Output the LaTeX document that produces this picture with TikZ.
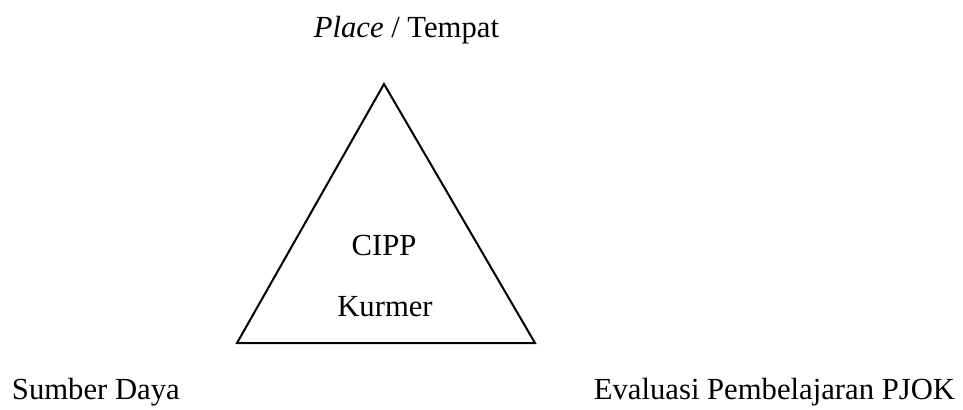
\documentclass[tikz,border=0pt]{standalone}
\usepackage{fontspec}
\setmainfont{Liberation Serif}
\usepackage{tikz}
\usetikzlibrary{positioning}
\tikzset{lbl/.style={anchor=base, inner sep=0pt, font=\fontsize{23}{27}\selectfont}}

\begin{document}
\begin{tikzpicture}[x=0.75pt, y=-0.75pt, line width=1.5pt]
  \useasboundingbox (0,0) rectangle (963,410);
  \coordinate (T)  at (384,84);
  \coordinate (BL) at (237,343);
  \coordinate (BR) at (535,343);
  \node[lbl, anchor=base east] (place) at (500,38) {\textit{Place} / Tempat};
  \node[lbl] (cipp)   at (384,255) {CIPP};
  \node[lbl] (kurmer) at (385,316) {Kurmer};
  \node[lbl, anchor=base west] (sumber) at (11,399)  {Sumber Daya};
  \node[lbl, anchor=base east] (eval)   at (956,399) {Evaluasi Pembelajaran PJOK};
  \draw[line join=miter] (T) -- (BL) -- (BR) -- cycle;
\end{tikzpicture}
\end{document}
